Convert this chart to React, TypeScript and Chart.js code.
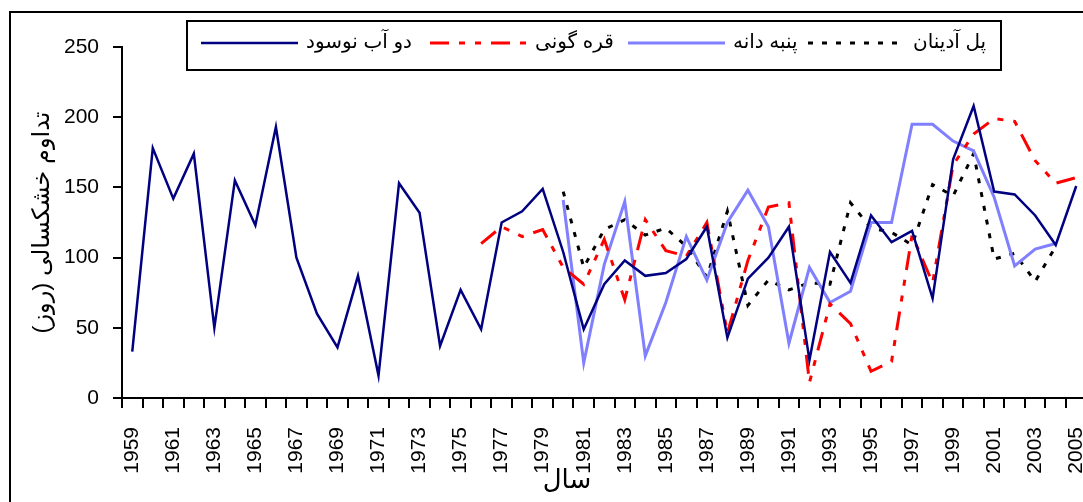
import { useEffect, useRef } from 'react'
import { Chart, registerables } from 'chart.js'

Chart.register(...registerables)

const years = [
  '1959', '1960', '1961', '1962', '1963', '1964', '1965', '1966', '1967', '1968',
  '1969', '1970', '1971', '1972', '1973', '1974', '1975', '1976', '1977', '1978',
  '1979', '1980', '1981', '1982', '1983', '1984', '1985', '1986', '1987', '1988',
  '1989', '1990', '1991', '1992', '1993', '1994', '1995', '1996', '1997', '1998',
  '1999', '2000', '2001', '2002', '2003', '2004', '2005'
]

// دو آب نوسود 1959-2005
const doAbNowsud = [
  33, 178, 142, 174, 50, 155, 123, 193, 100, 60,
  36, 87, 16, 153, 132, 37, 77, 49, 125, 133,
  149, 104, 49, 81, 98, 87, 89, 99, 122, 43,
  85, 100, 122, 27, 104, 82, 130, 111, 119, 71,
  170, 208, 147, 145, 130, 109, 151
]

// قره گونی 1976-2005
const qarehGuni = [
  null, null, null, null, null, null, null, null, null, null,
  null, null, null, null, null, null, null,
  110, 122, 115, 120, 93, 81, 113, 70, 127, 105,
  101, 125, 46, 98, 136, 139, 11, 67, 53, 19,
  26, 116, 82, 166, 188, 199, 197, 169, 153, 157
]

// پنبه دانه 1980-2004
const panbehDaneh = [
  null, null, null, null, null, null, null, null, null, null,
  null, null, null, null, null, null, null, null, null, null, null,
  141, 25, 95, 140, 30, 68, 115, 84, 125, 148,
  122, 39, 93, 68, 76, 125, 125, 195, 195, 183,
  176, 143, 94, 106, 110, null
]

// پل آدینان 1980-2004
const polAdinan = [
  null, null, null, null, null, null, null, null, null, null,
  null, null, null, null, null, null, null, null, null, null, null,
  147, 93, 120, 127, 116, 121, 108, 86, 133, 66,
  84, 77, 82, 81, 139, 121, 118, 109, 152, 144,
  174, 99, 103, 83, 108, null
]

const yTicks = [0, 50, 100, 150, 200, 250]
const xTitle = 'سال'
const yTitle = 'تداوم خشکسالی (روز)'

const latinFont = "'Liberation Sans', Arial, 'DejaVu Sans', sans-serif"
const legendStarts = [201, 430, 628, 808]

// frame, x title and the boxed legend drawn over the plot top
const decorPlugin = {
  id: 'decor',
  afterDraw(chart) {
    const ctx = chart.ctx
    ctx.save()
    ctx.strokeStyle = '#000'
    ctx.lineWidth = 2
    ctx.strokeRect(10, 12, chart.width + 40, chart.height + 40)

    ctx.fillStyle = '#000'
    ctx.font = `26px ${latinFont}`
    ctx.textAlign = 'center'
    ctx.textBaseline = 'middle'
    ctx.fillText(xTitle, 567, 481)

    ctx.fillStyle = '#fff'
    ctx.fillRect(187, 21, 814, 49)
    ctx.strokeRect(187, 21, 814, 49)

    ctx.font = `20px ${latinFont}`
    ctx.textAlign = 'left'
    chart.data.datasets.forEach((ds, i) => {
      const x = legendStarts[i]
      ctx.setLineDash(ds.borderDash || [])
      ctx.strokeStyle = ds.borderColor
      ctx.lineWidth = ds.borderWidth
      ctx.lineCap = 'butt'
      ctx.beginPath()
      ctx.moveTo(x, 43)
      ctx.lineTo(x + 97, 43)
      ctx.stroke()
      ctx.setLineDash([])
      ctx.fillStyle = '#000'
      ctx.fillText(ds.label, x + 105, 42)
    })
    ctx.restore()
  }
}

const DroughtChart = () => {
  const chartRef = useRef(null)
  const chartInstance = useRef(null)

  useEffect(() => {
    if (chartRef && chartRef.current) {
      const ctx = chartRef.current.getContext('2d')

      if (chartInstance.current) {
        chartInstance.current.destroy()
      }

      chartInstance.current = new Chart(ctx, {
        type: 'line',
        data: {
          labels: years,
          datasets: [
            {
              label: 'دو آب نوسود',
              data: doAbNowsud,
              borderColor: '#000080',
              borderWidth: 2.5,
              pointRadius: 0,
              tension: 0
            },
            {
              label: 'قره گونی',
              data: qarehGuni,
              borderColor: '#ff0000',
              borderWidth: 3,
              borderDash: [19, 10, 6, 10, 6, 10],
              pointRadius: 0,
              tension: 0
            },
            {
              label: 'پنبه دانه',
              data: panbehDaneh,
              borderColor: '#8080ff',
              borderWidth: 3,
              pointRadius: 0,
              tension: 0
            },
            {
              label: 'پل آدینان',
              data: polAdinan,
              borderColor: '#000000',
              borderWidth: 3,
              borderDash: [5, 9],
              pointRadius: 0,
              tension: 0
            }
          ]
        },
        options: {
          animation: false,
          responsive: true,
          maintainAspectRatio: false,
          layout: {
            padding: { top: 47, right: 3.5, left: 0, bottom: 0 }
          },
          plugins: {
            legend: { display: false },
            tooltip: { enabled: false }
          },
          scales: {
            x: {
              type: 'category',
              offset: true,
              afterFit: (scale) => {
                scale.height = 104
                scale.paddingLeft = 0
                scale.paddingRight = 0
              },
              border: { color: '#000', width: 2 },
              grid: {
                offset: true,
                drawOnChartArea: false,
                drawTicks: true,
                tickLength: 10,
                color: '#000',
                lineWidth: 2
              },
              ticks: {
                autoSkip: false,
                minRotation: 90,
                maxRotation: 90,
                padding: 19,
                color: '#000',
                font: { family: latinFont, size: 21 },
                callback: (value, index) => (index % 2 === 0 ? years[index] : '')
              }
            },
            y: {
              min: 0,
              max: 250,
              afterFit: (scale) => { scale.width = 122 },
              afterBuildTicks: (scale) => {
                scale.ticks = yTicks.map((v) => ({ value: v }))
              },
              border: { color: '#000', width: 2 },
              grid: {
                drawOnChartArea: false,
                drawTicks: true,
                tickLength: 9,
                color: '#000',
                lineWidth: 2
              },
              ticks: {
                padding: 14,
                color: '#000',
                font: { family: latinFont, size: 21 }
              },
              title: {
                display: true,
                text: yTitle,
                color: '#000',
                font: { family: latinFont, size: 24 },
                padding: { top: 28, bottom: 0 }
              }
            }
          }
        },
        plugins: [decorPlugin]
      })
    }

    return () => {
      if (chartInstance.current) {
        chartInstance.current.destroy()
      }
    }
  }, [])

  return <canvas ref={chartRef} />
}

export default function App() {
  return (
    <div style={{ position: 'absolute', left: 0, top: 0, width: 1083, height: 502, overflow: 'hidden', background: '#fff' }}>
      <div style={{ position: 'relative', width: 1090, height: 502 }}>
        <DroughtChart />
      </div>
    </div>
  )
}
